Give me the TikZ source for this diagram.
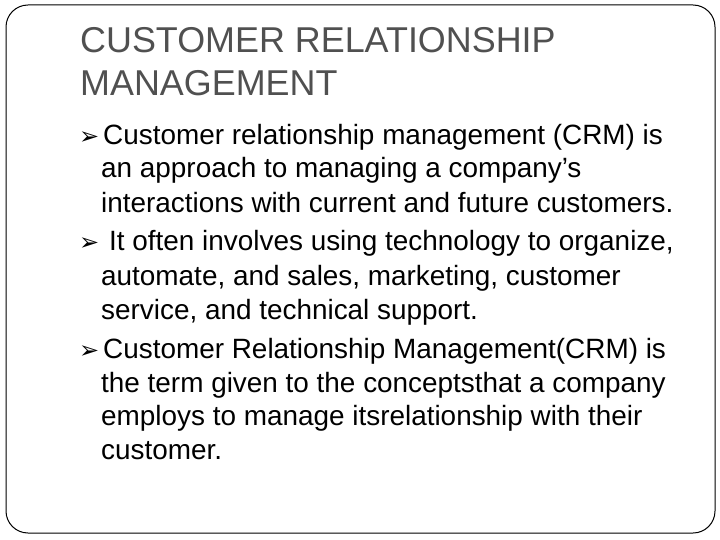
\documentclass[tikz,border=0pt]{standalone}
\usepackage{fontspec}
\setmainfont{Liberation Sans}
\newfontfamily\dv{DejaVu Sans}
\definecolor{titlegray}{RGB}{80,80,80}
\begin{document}
\begin{tikzpicture}[x=1pt,y=-1pt,
  ttl/.style={anchor=base west,inner sep=0,font=\fontsize{35.9}{40}\selectfont,text=titlegray},
  body/.style={anchor=base west,inner sep=0,font=\fontsize{27.9}{30}\selectfont},
  bul/.style={anchor=base west,inner sep=0,font=\dv\fontsize{24}{26}\selectfont}]
\useasboundingbox (0,0) rectangle (720,540);
\draw[line width=1pt,rounded corners=22] (6,5) rectangle (715,533);
\node[ttl] (t1) at (80,53) {CUSTOMER RELATIONSHIP};
\node[ttl] (t2) at (80,96) {MANAGEMENT};
\node[bul] (b1) at (79,145) {➢};
\node[body] (l1) at (103,145) {Customer relationship management (CRM) is};
\node[body] (l2) at (101,178) {an approach to managing a company’s};
\node[body] (l3) at (101,212) {interactions with current and future customers.};
\node[bul] (b2) at (79,251) {➢};
\node[body] (l4) at (109,251) {It often involves using technology to organize,};
\node[body] (l5) at (101,285) {automate, and sales, marketing, customer};
\node[body] (l6) at (101,319) {service, and technical support.};
\node[bul] (b3) at (79,358) {➢};
\node[body] (l7) at (103,358) {Customer Relationship Management(CRM) is};
\node[body] (l8) at (101,392) {the term given to the conceptsthat a company};
\node[body] (l9) at (101,425) {employs to manage itsrelationship with their};
\node[body] (l10) at (101,459) {customer.};
\end{tikzpicture}
\end{document}
